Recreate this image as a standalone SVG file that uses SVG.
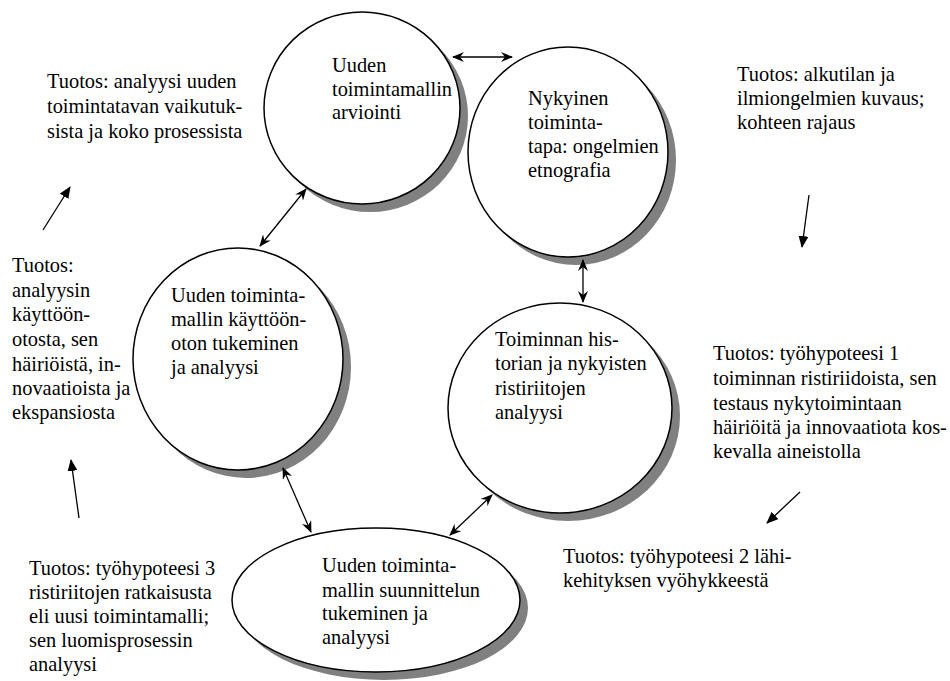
<svg xmlns="http://www.w3.org/2000/svg" width="950" height="681" viewBox="0 0 950 681">
  <defs>
    <marker id="barb" viewBox="0 0 12 10" refX="11" refY="5" markerWidth="12" markerHeight="10" markerUnits="userSpaceOnUse" orient="auto-start-reverse">
      <path d="M0,0 L12,5 L0,10 L4,5 z" style="fill:#000000"/>
    </marker>
    <marker id="tri" viewBox="0 0 12 10" refX="11" refY="5" markerWidth="12" markerHeight="10" markerUnits="userSpaceOnUse" orient="auto">
      <path d="M0,0 L12,5 L0,10 z" style="fill:#000000"/>
    </marker>
  </defs>

  <rect x="0" y="0" width="950" height="681" style="fill:#ffffff"/>

  <!-- process nodes: grey drop shadow, white disc, label -->
  <g id="arviointi">
    <ellipse style="fill:#808080;stroke:none" cx="370" cy="116" rx="98" ry="96"/>
    <ellipse style="fill:#ffffff;stroke:#000000;stroke-width:1.5px" cx="362" cy="108" rx="98" ry="96"/>
    <text style="font-family:'Liberation Serif',serif;font-size:20.4px;fill:#000000" x="332" y="72">Uuden</text>
    <text style="font-family:'Liberation Serif',serif;font-size:20.4px;fill:#000000" x="332" y="96">toimintamallin</text>
    <text style="font-family:'Liberation Serif',serif;font-size:20.4px;fill:#000000" x="332" y="119">arviointi</text>
  </g>

  <g id="nykyinen">
    <ellipse style="fill:#808080;stroke:none" cx="576" cy="160" rx="100" ry="105"/>
    <ellipse style="fill:#ffffff;stroke:#000000;stroke-width:1.5px" cx="568" cy="152" rx="100" ry="105"/>
    <text style="font-family:'Liberation Serif',serif;font-size:20.4px;fill:#000000" x="528" y="105">Nykyinen</text>
    <text style="font-family:'Liberation Serif',serif;font-size:20.4px;fill:#000000" x="528" y="129">toiminta-</text>
    <text style="font-family:'Liberation Serif',serif;font-size:20.4px;fill:#000000" x="528" y="153">tapa: ongelmien</text>
    <text style="font-family:'Liberation Serif',serif;font-size:20.4px;fill:#000000" x="528" y="177">etnografia</text>
  </g>

  <g id="historia">
    <ellipse style="fill:#808080;stroke:none" cx="568" cy="416" rx="112" ry="105"/>
    <ellipse style="fill:#ffffff;stroke:#000000;stroke-width:1.5px" cx="560" cy="408" rx="112" ry="105"/>
    <text style="font-family:'Liberation Serif',serif;font-size:20.4px;fill:#000000" x="495" y="346">Toiminnan his-</text>
    <text style="font-family:'Liberation Serif',serif;font-size:20.4px;fill:#000000" x="495" y="370">torian ja nykyisten</text>
    <text style="font-family:'Liberation Serif',serif;font-size:20.4px;fill:#000000" x="495" y="395">ristiriitojen</text>
    <text style="font-family:'Liberation Serif',serif;font-size:20.4px;fill:#000000" x="495" y="419">analyysi</text>
  </g>

  <g id="suunnittelu">
    <ellipse style="fill:#808080;stroke:none" cx="384" cy="608" rx="144" ry="72"/>
    <ellipse style="fill:#ffffff;stroke:#000000;stroke-width:1.5px" cx="376" cy="600" rx="144" ry="72"/>
    <text style="font-family:'Liberation Serif',serif;font-size:20.4px;fill:#000000" x="322" y="572">Uuden toiminta-</text>
    <text style="font-family:'Liberation Serif',serif;font-size:20.4px;fill:#000000" x="322" y="597">mallin suunnittelun</text>
    <text style="font-family:'Liberation Serif',serif;font-size:20.4px;fill:#000000" x="322" y="620">tukeminen ja</text>
    <text style="font-family:'Liberation Serif',serif;font-size:20.4px;fill:#000000" x="322" y="644">analyysi</text>
  </g>

  <g id="kayttoonotto">
    <ellipse style="fill:#808080;stroke:none" cx="246" cy="367" rx="105" ry="111"/>
    <ellipse style="fill:#ffffff;stroke:#000000;stroke-width:1.5px" cx="238" cy="359" rx="105" ry="111"/>
    <text style="font-family:'Liberation Serif',serif;font-size:20.4px;fill:#000000" x="171" y="302">Uuden toiminta-</text>
    <text style="font-family:'Liberation Serif',serif;font-size:20.4px;fill:#000000" x="171" y="326">mallin k&#228;ytt&#246;&#246;n-</text>
    <text style="font-family:'Liberation Serif',serif;font-size:20.4px;fill:#000000" x="171" y="350">oton tukeminen</text>
    <text style="font-family:'Liberation Serif',serif;font-size:20.4px;fill:#000000" x="171" y="374">ja analyysi</text>
  </g>

  <!-- outputs of each phase -->
  <g id="tuotos-arviointi">
    <text style="font-family:'Liberation Serif',serif;font-size:20.4px;fill:#000000" x="47" y="88">Tuotos: analyysi uuden</text>
    <text style="font-family:'Liberation Serif',serif;font-size:20.4px;fill:#000000" x="47" y="113">toimintatavan vaikutuk-</text>
    <text style="font-family:'Liberation Serif',serif;font-size:20.4px;fill:#000000" x="47" y="138">sista ja koko prosessista</text>
  </g>
  <g id="tuotos-nykyinen">
    <text style="font-family:'Liberation Serif',serif;font-size:20.4px;fill:#000000" x="737" y="81">Tuotos: alkutilan ja</text>
    <text style="font-family:'Liberation Serif',serif;font-size:20.4px;fill:#000000" x="737" y="105">ilmiongelmien kuvaus;</text>
    <text style="font-family:'Liberation Serif',serif;font-size:20.4px;fill:#000000" x="737" y="129">kohteen rajaus</text>
  </g>
  <g id="tuotos-historia">
    <text style="font-family:'Liberation Serif',serif;font-size:20.4px;fill:#000000" x="713" y="360">Tuotos: ty&#246;hypoteesi 1</text>
    <text style="font-family:'Liberation Serif',serif;font-size:20.4px;fill:#000000" x="713" y="385">toiminnan ristiriidoista, sen</text>
    <text style="font-family:'Liberation Serif',serif;font-size:20.4px;fill:#000000" x="713" y="410">testaus nykytoimintaan</text>
    <text style="font-family:'Liberation Serif',serif;font-size:20.4px;fill:#000000" x="713" y="434">h&#228;iri&#246;it&#228; ja innovaatiota kos-</text>
    <text style="font-family:'Liberation Serif',serif;font-size:20.4px;fill:#000000" x="713" y="458">kevalla aineistolla</text>
  </g>
  <g id="tuotos-suunnittelu">
    <text style="font-family:'Liberation Serif',serif;font-size:20.4px;fill:#000000" x="563" y="563">Tuotos: ty&#246;hypoteesi 2 l&#228;hi-</text>
    <text style="font-family:'Liberation Serif',serif;font-size:20.4px;fill:#000000" x="563" y="587">kehityksen vy&#246;hykkeest&#228;</text>
  </g>
  <g id="tuotos-uusi-malli">
    <text style="font-family:'Liberation Serif',serif;font-size:20.4px;fill:#000000" x="29" y="575">Tuotos: ty&#246;hypoteesi 3</text>
    <text style="font-family:'Liberation Serif',serif;font-size:20.4px;fill:#000000" x="29" y="599">ristiriitojen ratkaisusta</text>
    <text style="font-family:'Liberation Serif',serif;font-size:20.4px;fill:#000000" x="29" y="623">eli uusi toimintamalli;</text>
    <text style="font-family:'Liberation Serif',serif;font-size:20.4px;fill:#000000" x="29" y="647">sen luomisprosessin</text>
    <text style="font-family:'Liberation Serif',serif;font-size:20.4px;fill:#000000" x="29" y="671">analyysi</text>
  </g>
  <g id="tuotos-kayttoonotto">
    <text style="font-family:'Liberation Serif',serif;font-size:20.4px;fill:#000000" x="12" y="272">Tuotos:</text>
    <text style="font-family:'Liberation Serif',serif;font-size:20.4px;fill:#000000" x="12" y="297">analyysin</text>
    <text style="font-family:'Liberation Serif',serif;font-size:20.4px;fill:#000000" x="12" y="321">k&#228;ytt&#246;&#246;n-</text>
    <text style="font-family:'Liberation Serif',serif;font-size:20.4px;fill:#000000" x="12" y="346">otosta, sen</text>
    <text style="font-family:'Liberation Serif',serif;font-size:20.4px;fill:#000000" x="12" y="371">h&#228;iri&#246;ist&#228;, in-</text>
    <text style="font-family:'Liberation Serif',serif;font-size:20.4px;fill:#000000" x="12" y="395">novaatioista ja</text>
    <text style="font-family:'Liberation Serif',serif;font-size:20.4px;fill:#000000" x="12" y="419">ekspansiosta</text>
  </g>

  <!-- connectors: double-headed links between phases, single arrows for outputs -->
  <g id="connectors">
    <line style="fill:none;stroke:#000000;stroke-width:1.3px" marker-start="url(#barb)" marker-end="url(#barb)" x1="453" y1="57" x2="512" y2="57"/>
    <line style="fill:none;stroke:#000000;stroke-width:1.3px" marker-start="url(#barb)" marker-end="url(#barb)" x1="583" y1="260" x2="583" y2="302"/>
    <line style="fill:none;stroke:#000000;stroke-width:1.3px" marker-start="url(#barb)" marker-end="url(#barb)" x1="306" y1="189" x2="260" y2="246"/>
    <line style="fill:none;stroke:#000000;stroke-width:1.3px" marker-start="url(#barb)" marker-end="url(#barb)" x1="283" y1="468" x2="311" y2="532"/>
    <line style="fill:none;stroke:#000000;stroke-width:1.3px" marker-start="url(#barb)" marker-end="url(#barb)" x1="492" y1="495" x2="450" y2="535"/>
    <line style="fill:none;stroke:#000000;stroke-width:1.3px" marker-end="url(#tri)" x1="809" y1="195" x2="802" y2="247"/>
    <line style="fill:none;stroke:#000000;stroke-width:1.3px" marker-end="url(#tri)" x1="800" y1="492" x2="767" y2="523"/>
    <line style="fill:none;stroke:#000000;stroke-width:1.3px" marker-end="url(#tri)" x1="79" y1="518" x2="71" y2="460"/>
    <line style="fill:none;stroke:#000000;stroke-width:1.3px" marker-end="url(#tri)" x1="43" y1="230" x2="70" y2="187"/>
  </g>
</svg>
